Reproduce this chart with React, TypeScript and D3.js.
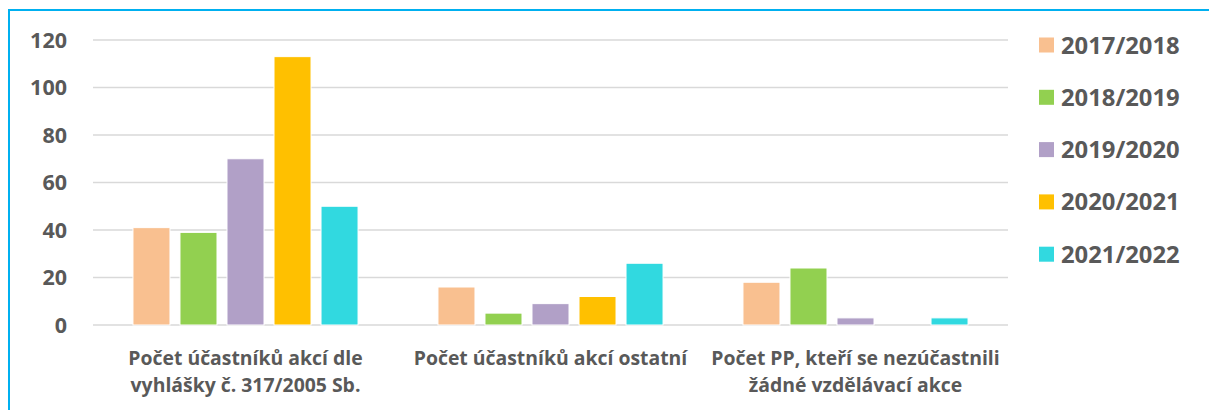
import React from "react";
import * as d3 from "d3";

const categories = [
  ["Počet účastníků akcí dle", "vyhlášky č. 317/2005 Sb."],
  ["Počet účastníků akcí ostatní"],
  ["Počet PP, kteří se nezúčastnili", "žádné vzdělávací akce"],
];
const years = ["2017/2018", "2018/2019", "2019/2020", "2020/2021", "2021/2022"];
const colors = ["#F9C090", "#92D050", "#B1A0C7", "#FFC000", "#31D9E0"];

// values per year, one entry per category
const v2017 = [41, 16, 18];
const v2018 = [39, 5, 24];
const v2019 = [70, 9, 3];
const v2020 = [113, 12, 0];
const v2021 = [50, 26, 3];
const values = [v2017, v2018, v2019, v2020, v2021];

const yTicks = [0, 20, 40, 60, 80, 100, 120];

const W = 1209;
const H = 410;
const FONT = "'Open Sans', sans-serif";
const TEXT = "#595959";

export default function App() {
  const x0 = d3
    .scaleBand<number>()
    .domain(d3.range(categories.length))
    .range([93, 1008]);
  const x1 = d3
    .scaleBand<number>()
    .domain(d3.range(years.length))
    .range([0, x0.bandwidth()])
    .paddingInner(10 / 47)
    .paddingOuter(0.85);
  const y = d3.scaleLinear().domain([0, 120]).range([325, 40]);

  return (
    <svg
      width={W}
      height={H}
      style={{ position: "absolute", left: 0, top: 0, background: "#fff" }}
      fontFamily={FONT}
    >
      <rect x={9} y={10} width={W + 20} height={H + 20} fill="#fff" stroke="#00B0F0" strokeWidth={2} />

      {yTicks.map((t) => (
        <g key={t}>
          <line x1={93} x2={1008} y1={y(t)} y2={y(t)} stroke="#D9D9D9" strokeWidth={1.5} />
          <text
            x={67}
            y={y(t)}
            dy="0.36em"
            textAnchor="end"
            fontSize={21.5}
            fontWeight={700}
            fill={TEXT}
          >
            {t}
          </text>
        </g>
      ))}

      {categories.map((cat, ci) => (
        <g key={ci} transform={`translate(${x0(ci)},0)`}>
          {years.map((yr, si) => {
            const v = values[si][ci];
            if (!v) return null;
            return (
              <rect
                key={yr}
                x={x1(si)}
                y={y(v)}
                width={x1.bandwidth()}
                height={y(0) - y(v)}
                fill={colors[si]}
                stroke="#fff"
                strokeWidth={1}
              />
            );
          })}
          {cat.map((line, li) => (
            <text
              key={li}
              x={x0.bandwidth() / 2}
              y={365 + li * 27}
              textAnchor="middle"
              fontSize={19.4}
              fontWeight={700}
              fill={TEXT}
            >
              {line}
            </text>
          ))}
        </g>
      ))}

      {years.map((yr, si) => {
        const cy = 45 + si * 52.3;
        return (
          <g key={yr}>
            <rect x={1039} y={cy - 7.5} width={15} height={15} fill={colors[si]} />
            <text x={1061} y={cy} dy="0.36em" fontSize={23.8} fontWeight={700} fill={TEXT}>
              {yr}
            </text>
          </g>
        );
      })}
    </svg>
  );
}
